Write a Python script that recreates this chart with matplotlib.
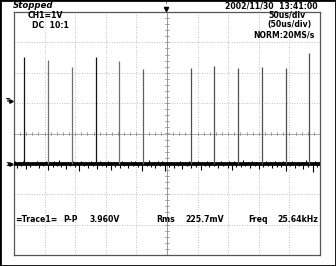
import matplotlib
matplotlib.use('Agg')
import matplotlib.pyplot as plt
from matplotlib.patches import Rectangle
import numpy as np

W, H = 336, 266

# ---- data ----
pulse_t = [16, 55, 94, 134, 172, 211, 289, 327, 366, 405, 444, 482]          # us
pulse_v = [3.52, 3.42, 3.19, 3.52, 3.39, 3.13, 3.16, 3.22, 3.16, 3.19, 3.16, 3.65]  # V

noise_t = [1, 5, 8, 12, 15, 19, 23, 26, 30, 34, 37, 41, 44, 48, 52, 56, 59, 63, 66,
           70, 74, 77, 81, 85, 88, 92, 96, 99, 103, 107, 110, 114, 118, 121, 125, 129,
           132, 136, 140, 143, 147, 151, 154, 158, 162, 165, 169, 173, 176, 180, 184,
           187, 191, 195, 198, 202, 206, 209, 213, 217, 220, 224, 228, 231, 235, 239,
           242, 246, 250, 253, 257, 261, 264, 268, 272, 275, 279, 283, 286, 290, 294,
           297, 301, 305, 308, 312, 316, 319, 323, 327, 330, 334, 338, 341, 345, 349,
           352, 356, 360, 363, 367, 371, 374, 378, 382, 385, 389, 393, 396, 400, 404,
           407, 411, 415, 418, 422, 426, 429, 433, 437, 440, 444, 448, 451, 455, 459,
           462, 466, 470, 473, 477, 481, 484, 488, 492, 495, 499]
noise_v = [0.08, -0.12, 0.05, -0.07, 0.10, -0.18, 0.06, -0.09, 0.07, -0.05, 0.11,
           -0.14, 0.06, -0.08, 0.09, -0.21, 0.05, -0.10, 0.08, -0.06, 0.12, -0.09,
           0.05, -0.16, 0.07, -0.07, 0.10, -0.11, 0.06, -0.24, 0.08, -0.06, 0.05,
           -0.13, 0.09, -0.08, 0.06, -0.17, 0.11, -0.07, 0.05, -0.10, 0.08, -0.20,
           0.06, -0.09, 0.07, -0.12, 0.10, -0.06, 0.05, -0.15, 0.08, -0.08, 0.09,
           -0.11, 0.06, -0.22, 0.07, -0.07, 0.12, -0.10, 0.05, -0.14, 0.08, -0.06,
           0.10, -0.25, 0.06, -0.09, 0.07, -0.12, 0.05, -0.08, 0.11, -0.16, 0.06,
           -0.07, 0.09, -0.13, 0.05, -0.10, 0.08, -0.19, 0.07, -0.06, 0.10, -0.11,
           0.06, -0.08, 0.05, -0.15, 0.09, -0.07, 0.06, -0.12, 0.08, -0.21, 0.11,
           -0.09, 0.05, -0.10, 0.14, -0.07, 0.06, -0.13, 0.08, -0.08, 0.07, -0.17,
           0.05, -0.10, 0.09, -0.06, 0.06, -0.14, 0.10, -0.09, 0.05, -0.11, 0.08,
           -0.23, 0.06, -0.07, 0.09, -0.12, 0.05, -0.08, 0.07, -0.16, 0.12, -0.10,
           0.06, -0.26, 0.08, -0.09, 0.05]

header_left = "Stopped"
header_right = "2002/11/30  13:41:00"
ch_info = ["CH1=1V", "DC  10:1"]
tb_info = ["50us/div", "(50us/div)", "NORM:20MS/s"]
meas = [("=Trace1=", 15), ("P-P", 63), ("3.960V", 90), ("Rms", 156),
        ("225.7mV", 185), ("Freq", 248), ("25.64kHz", 277)]

# ---- styles ----
pulse_colors = ['#111111', '#707070', '#707070', '#111111', '#707070', '#606060',
                '#505050', '#505050', '#505050', '#505050', '#505050', '#505050']

fig = plt.figure(figsize=(W / 100, H / 100), dpi=100)
fig.patch.set_facecolor('white')
ax = fig.add_axes([14 / W, 11 / H, 306 / W, 243 / H])
ax.set_xlim(0, 500)
ax.set_ylim(-3, 5)
ax.set_xticks([])
ax.set_yticks([])
for s in ax.spines.values():
    s.set_color('#555555')
    s.set_linewidth(0.9)

# grid
for t in range(50, 500, 50):
    if t == 250:
        continue
    ax.axvline(t, color='#aaaaaa', lw=0.6, ls=(0, (1, 2)), zorder=1)
for v in range(-2, 5):
    if v == 1:
        continue
    ax.axhline(v, color='#aaaaaa', lw=0.6, ls=(0, (1, 2)), zorder=1)
ax.axvline(250, color='#999999', lw=0.7, zorder=1)
ax.axhline(1, color='#aaaaaa', lw=0.7, zorder=1)
for t in np.arange(10, 500, 10):
    ax.plot([t, t], [1 - 0.05, 1 + 0.05], color='#888888', lw=0.5, zorder=1)
for v in np.arange(-2.8, 5, 0.2):
    ax.plot([250 - 3, 250 + 3], [v, v], color='#888888', lw=0.5, zorder=1)

# baseline noise band + pulses
ax.plot([0, 500], [0, 0], color='black', lw=2.7, zorder=3, solid_capstyle='butt')
ax.vlines(noise_t, 0, noise_v, colors='black', lw=0.8, zorder=3)
ax.vlines(pulse_t, 0, pulse_v, colors=pulse_colors, lw=0.9, zorder=4)


def px(x, y):
    return x / W, 1 - y / H


fs = 5.6
fig.text(*px(13, 6), header_left, fontsize=6.2, style='italic', weight='bold',
         va='center', ha='left')
fig.text(*px(318, 6), header_right, fontsize=fs, weight='bold', va='center', ha='right')
fig.text(*px(28, 16), ch_info[0], fontsize=fs, weight='bold', va='center', ha='left')
fig.text(*px(32, 26), ch_info[1], fontsize=fs, weight='bold', va='center', ha='left')
fig.text(*px(305, 15), tb_info[0], fontsize=fs, weight='bold', va='center', ha='right')
fig.text(*px(312, 25), tb_info[1], fontsize=fs, weight='bold', va='center', ha='right')
fig.text(*px(315, 35), tb_info[2], fontsize=fs, weight='bold', va='center', ha='right')
for txt, x in meas:
    fig.text(*px(x, 219), txt, fontsize=fs, weight='bold', va='center', ha='left')

# markers: trigger position (top), trigger level and ground (left)
fig.text(*px(166, 3), "T", fontsize=3.5, va='center', ha='center')
fig.lines.append(plt.Line2D([166 / W], [1 - 9 / H], marker='v', ms=3, color='black',
                            transform=fig.transFigure))
fig.text(*px(7, 101), "T", fontsize=4.5, weight='bold', va='center', ha='center')
fig.lines.append(plt.Line2D([11 / W], [1 - 101 / H], marker='>', ms=2.5, color='black',
                            transform=fig.transFigure))
fig.text(*px(7, 165), "1", fontsize=4.5, weight='bold', va='center', ha='center')
fig.lines.append(plt.Line2D([11 / W], [1 - 164 / H], marker='>', ms=2.5, color='black',
                            transform=fig.transFigure))

fig.patches.append(Rectangle((0, 0), 1, 1, transform=fig.transFigure, fill=False,
                             edgecolor='black', lw=2))

fig.savefig('out.png', dpi=100, facecolor='white')
